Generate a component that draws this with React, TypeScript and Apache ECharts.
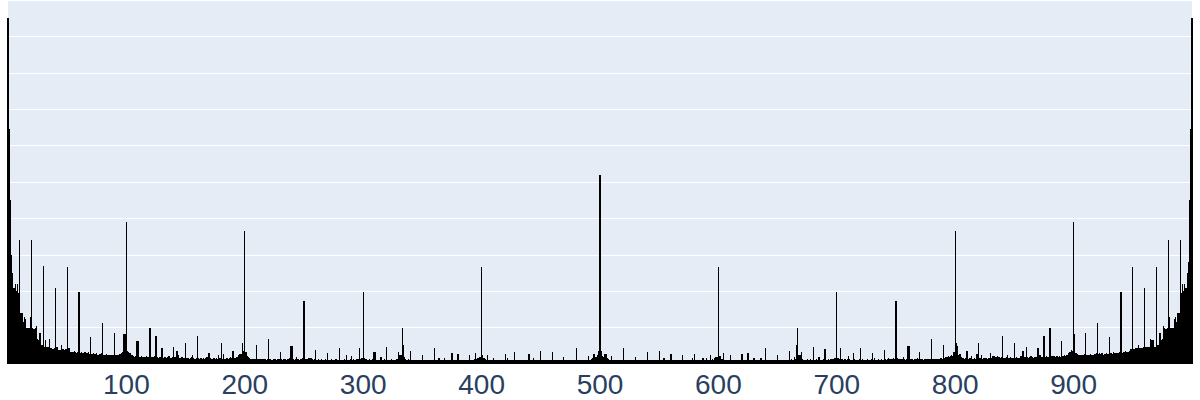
import React, { useEffect, useRef } from "react";
import * as echarts from "echarts";

// x positions 0..1000 (labels shown at multiples of 100)
const categories: string[] = Array.from({ length: 1001 }, (_, i) => String(i));
const tickLabels = ["100", "200", "300", "400", "500", "600", "700", "800", "900"];

// bar heights in tenths of a grid step, x = 0 .. 499
const valuesLeft: number[] = [
  95, 64.6, 45, 30, 25, 21, 22, 20, 22, 19.5,
  34, 14, 14, 11.5, 13, 12.4, 10, 10, 10, 13,
  34, 10, 9.6, 10, 10.4, 7, 6.6, 8.5, 5.2, 5.2,
  27, 4.7, 6.6, 4.7, 4.7, 6.9, 4.4, 4.4, 4.2, 4.4,
  21, 4.7, 4.6, 3.8, 3.8, 5.2, 4.0, 4.2, 3.9, 4.1,
  26.6, 4.4, 4.3, 3.3, 3.4, 3.2, 3.5, 3.3, 3.1, 3.3,
  19.8, 3.1, 3.2, 3.0, 3.1, 3.3, 2.9, 3.0, 3.2, 2.8,
  7.4, 2.8, 2.9, 2.7, 2.8, 3.0, 2.6, 2.8, 2.7, 2.9,
  11.3, 2.6, 2.5, 2.7, 2.4, 2.6, 2.5, 2.4, 2.6, 2.5,
  8.5, 2.4, 2.6, 2.5, 2.7, 2.8, 3.0, 3.2, 8.2, 8.2,
  39, 3.7, 3.2, 3.0, 2.6, 2.4, 2.2, 2.0, 2.1, 6.3,
  6.3, 2.0, 1.9, 2.1, 1.8, 2.0, 1.9, 2.2, 1.8, 2.0,
  10, 2.0, 1.8, 1.9, 2.1, 7.7, 1.8, 1.7, 1.9, 1.8,
  4.4, 1.7, 1.9, 1.8, 1.6, 1.8, 2.2, 1.7, 1.6, 1.9,
  4.7, 1.8, 3.6, 3.6, 2.4, 1.7, 1.6, 1.8, 1.7, 1.6,
  5.8, 1.6, 1.7, 1.5, 1.6, 1.8, 2.5, 1.6, 1.5, 1.6,
  7.7, 1.6, 1.5, 1.7, 1.5, 1.6, 1.4, 1.6, 2.0, 3.0,
  3.0, 1.6, 1.5, 1.4, 1.6, 1.5, 1.7, 1.5, 2.5, 1.6,
  5.8, 1.5, 2.7, 1.5, 1.4, 1.6, 1.5, 1.7, 1.8, 1.6,
  3.6, 1.6, 1.7, 1.8, 2.0, 2.4, 2.8, 2.8, 5.8, 3.6,
  36.5, 3.3, 2.2, 1.8, 1.6, 1.5, 1.4, 1.5, 1.3, 1.4,
  5.2, 1.3, 1.4, 1.3, 1.5, 1.3, 1.4, 1.3, 1.2, 1.4,
  6.9, 1.3, 1.4, 1.2, 1.3, 1.5, 1.3, 1.2, 1.4, 1.3,
  3.3, 1.3, 1.2, 1.4, 1.3, 1.2, 1.3, 1.4, 1.6, 5.0,
  5.0, 1.3, 1.2, 1.4, 2.0, 1.3, 1.2, 1.4, 1.5, 1.6,
  17.3, 1.5, 1.4, 1.3, 1.6, 1.6, 1.6, 1.3, 1.2, 1.3,
  3.8, 1.2, 1.3, 1.1, 1.2, 1.3, 1.2, 1.1, 1.3, 1.2,
  3.0, 1.2, 1.1, 1.3, 1.2, 1.1, 1.2, 1.3, 1.1, 1.2,
  4.4, 1.2, 1.1, 1.2, 1.3, 1.2, 2.5, 1.1, 1.2, 1.3,
  2.2, 1.2, 1.3, 1.2, 1.4, 1.3, 1.5, 4.4, 1.5, 1.6,
  19.8, 1.6, 1.4, 1.3, 1.2, 1.3, 1.1, 1.2, 1.3, 3.3,
  3.3, 1.2, 1.1, 1.2, 1.1, 1.9, 1.2, 1.1, 1.3, 1.2,
  4.7, 1.1, 1.2, 1.1, 1.3, 1.2, 1.1, 1.2, 1.3, 1.4,
  3.3, 2.5, 2.5, 10, 5.2, 1.9, 1.4, 1.2, 1.3, 1.2,
  3.6, 1.2, 1.1, 1.2, 1.1, 1.2, 1.1, 1.0, 1.2, 1.1,
  2.5, 1.1, 1.2, 1.1, 1.0, 1.1, 1.2, 1.1, 1.0, 1.1,
  4.4, 1.1, 1.0, 1.1, 1.6, 1.1, 1.0, 1.1, 1.2, 1.6,
  1.1, 1.0, 1.1, 1.2, 1.1, 3.0, 1.2, 1.1, 1.0, 1.1,
  2.7, 1.1, 1.0, 1.1, 1.2, 1.1, 1.0, 1.1, 1.2, 1.1,
  2.5, 1.1, 1.2, 1.1, 1.3, 3.0, 1.4, 1.6, 1.8, 2.0,
  26.6, 2.5, 1.6, 1.4, 1.2, 2.5, 1.2, 1.1, 1.0, 1.1,
  1.6, 1.0, 1.1, 1.0, 1.1, 1.0, 1.2, 1.1, 1.0, 1.1,
  2.7, 1.1, 1.6, 1.0, 1.1, 1.0, 1.1, 1.0, 3.3, 1.1,
  1.0, 1.1, 1.0, 1.1, 1.0, 1.2, 1.0, 1.1, 1.0, 1.1,
  2.7, 1.0, 1.1, 1.0, 1.6, 1.0, 1.1, 1.0, 1.1, 1.0,
  3.6, 1.1, 1.0, 1.1, 1.0, 1.1, 1.0, 1.1, 1.0, 1.1,
  3.3, 1.0, 1.1, 1.0, 1.1, 1.0, 1.2, 1.1, 1.2, 1.9,
  1.1, 1.0, 1.1, 1.2, 1.0, 1.1, 1.0, 1.2, 1.1, 1.0,
  4.4, 1.1, 1.0, 1.1, 1.2, 1.1, 1.0, 1.1, 1.2, 1.1,
  2.2, 1.1, 1.2, 1.4, 1.6, 2.7, 1.8, 2.0, 2.5, 3.6,
];

// bar heights, x = 500 .. 1000
const valuesRight: number[] = [
  52, 3.6, 2.2, 1.8, 2.7, 2.7, 1.6, 1.4, 1.2, 1.1,
  2.2, 1.1, 1.0, 1.2, 1.1, 1.0, 1.1, 1.0, 1.1, 1.2,
  4.4, 1.1, 1.0, 1.1, 1.2, 1.0, 1.1, 1.0, 1.1, 1.0,
  1.9, 1.1, 1.0, 1.1, 1.0, 1.1, 1.2, 1.0, 1.1, 1.0,
  3.3, 1.0, 1.1, 1.0, 1.1, 1.0, 1.1, 1.2, 1.0, 1.1,
  3.6, 1.0, 1.1, 1.0, 1.6, 1.1, 1.0, 1.1, 1.0, 1.1,
  2.7, 1.1, 1.0, 1.1, 1.0, 1.2, 1.0, 1.1, 1.0, 1.1,
  2.5, 1.1, 1.0, 1.1, 1.0, 1.1, 1.2, 1.0, 1.6, 1.1,
  2.7, 1.1, 1.0, 1.1, 1.0, 1.1, 1.2, 1.6, 1.1, 1.0,
  1.6, 1.1, 1.0, 2.5, 1.2, 1.4, 1.2, 1.6, 1.8, 2.0,
  26.6, 2.2, 2.2, 1.4, 3.0, 1.2, 1.1, 1.2, 1.0, 1.1,
  2.5, 1.0, 1.1, 1.0, 1.1, 1.0, 1.1, 1.2, 1.0, 1.1,
  2.7, 1.1, 1.0, 1.1, 1.0, 3.0, 1.1, 1.0, 1.1, 1.0,
  1.6, 1.1, 1.0, 1.1, 1.2, 1.1, 1.6, 1.1, 1.0, 1.1,
  4.4, 1.1, 1.2, 1.1, 1.0, 1.1, 1.0, 1.2, 1.1, 1.2,
  2.5, 1.2, 1.1, 1.2, 1.1, 1.2, 1.1, 1.2, 1.1, 1.2,
  3.6, 1.2, 1.3, 1.2, 1.9, 1.4, 5.2, 10, 2.5, 2.5,
  3.3, 1.3, 1.2, 1.1, 1.2, 1.3, 1.2, 1.1, 1.3, 1.2,
  4.7, 1.2, 1.1, 1.3, 1.2, 1.9, 1.1, 1.2, 1.1, 1.3,
  4.1, 1.2, 1.1, 1.3, 1.2, 1.4, 1.3, 1.4, 1.6, 1.6,
  19.8, 1.6, 1.5, 4.4, 1.4, 1.3, 1.2, 1.3, 1.2, 1.3,
  2.2, 1.3, 1.2, 1.1, 3.0, 1.3, 1.2, 1.1, 1.2, 1.3,
  4.4, 1.2, 1.3, 1.2, 1.1, 1.2, 1.3, 1.1, 1.2, 1.3,
  3.0, 1.2, 1.6, 1.1, 1.2, 1.3, 1.2, 1.1, 1.3, 1.2,
  3.8, 1.3, 1.2, 1.3, 1.6, 1.3, 1.4, 1.5, 1.6, 1.5,
  17.3, 1.6, 1.5, 1.4, 1.5, 1.3, 1.9, 1.4, 1.2, 1.3,
  5.0, 5.0, 1.3, 1.4, 1.3, 1.2, 1.3, 1.4, 1.6, 1.3,
  3.3, 1.4, 1.3, 1.2, 1.4, 1.3, 1.5, 1.4, 1.3, 1.5,
  6.9, 1.4, 1.3, 1.5, 1.4, 1.3, 1.5, 1.4, 1.6, 1.5,
  5.2, 1.6, 1.8, 2.0, 2.2, 2.0, 2.2, 2.4, 2.2, 3.3,
  36.5, 5.8, 5.0, 2.4, 2.7, 1.8, 1.7, 1.6, 1.5, 1.6,
  3.6, 1.5, 1.6, 1.7, 2.2, 1.5, 1.6, 1.5, 2.7, 2.7,
  5.8, 1.6, 2.5, 1.5, 1.6, 1.7, 1.6, 1.5, 1.7, 1.6,
  3.0, 1.7, 2.2, 2.2, 1.9, 2.0, 2.2, 1.8, 1.6, 2.0,
  7.7, 1.7, 1.6, 1.8, 2.5, 1.6, 1.7, 1.8, 1.6, 1.7,
  5.8, 1.7, 1.8, 1.6, 1.7, 2.2, 2.2, 3.6, 3.6, 1.8,
  4.7, 1.9, 1.7, 1.8, 2.2, 1.8, 1.7, 1.9, 1.8, 2.0,
  4.4, 2.5, 2.5, 1.9, 2.0, 7.7, 1.9, 2.1, 1.8, 2.0,
  10, 2.2, 2.2, 2.3, 2.2, 2.0, 2.1, 1.9, 2.2, 2.0,
  6.3, 2.2, 2.4, 2.2, 2.5, 2.6, 3.0, 3.3, 3.8, 3.5,
  39, 8.2, 3.0, 2.7, 2.6, 2.5, 2.4, 2.6, 2.5, 2.7,
  8.5, 2.5, 2.6, 2.4, 2.7, 2.5, 2.6, 2.4, 2.7, 3.0,
  11.3, 2.7, 2.9, 2.8, 3.0, 2.6, 2.8, 2.7, 2.9, 2.8,
  7.4, 2.9, 3.0, 2.8, 3.2, 3.0, 2.9, 3.1, 3.0, 3.2,
  19.8, 3.1, 3.3, 3.2, 3.5, 3.3, 3.4, 3.6, 4.2, 4.0,
  26.6, 4.2, 4.4, 4.3, 4.4, 5.2, 4.3, 4.5, 4.4, 4.6,
  21, 4.7, 4.6, 4.7, 4.8, 6.9, 6.6, 6.6, 4.7, 4.7,
  26.6, 5.2, 5.2, 8.5, 6.6, 7, 10.4, 10, 9.6, 10,
  34, 13, 10, 10, 10, 12.4, 13, 11.5, 14, 14,
  34, 19.5, 22, 20, 22, 21, 25, 28, 45, 64.6,
  95,
];

const values: number[] = [...valuesLeft, ...valuesRight];

export default function App() {
  const ref = useRef<HTMLDivElement>(null);
  useEffect(() => {
    if (!ref.current) return;
    const chart = echarts.init(ref.current, undefined, { renderer: "svg" });
    chart.setOption({
      animation: false,
      backgroundColor: "#ffffff",
      grid: {
        left: 8,
        right: 8,
        top: 0,
        bottom: 36,
        show: true,
        backgroundColor: "#E5ECF6",
        borderWidth: 0,
        containLabel: false,
      },
      xAxis: {
        type: "category",
        data: categories,
        boundaryGap: false,
        axisLine: { show: false },
        axisTick: { show: false },
        splitLine: { show: false },
        axisLabel: {
          interval: (_i: number, v: string) => tickLabels.includes(v),
          color: "#2a3f5f",
          fontSize: 28,
          lineHeight: 28,
          fontFamily: '"Liberation Sans", Arial, sans-serif',
          margin: 6,
        },
      },
      yAxis: {
        type: "value",
        min: 0,
        max: 100,
        interval: 10,
        axisLine: { show: false },
        axisTick: { show: false },
        axisLabel: { show: false },
        splitLine: { show: true, lineStyle: { color: "#ffffff", width: 1 } },
      },
      series: [
        {
          type: "bar",
          data: values,
          barWidth: "100%",
          itemStyle: { color: "#000000" },
          clip: true,
        },
      ],
    });
    return () => chart.dispose();
  }, []);
  return (
    <>
      <style>{`.bar-chart-box svg path { shape-rendering: crispEdges; }`}</style>
      <div
        ref={ref}
        className="bar-chart-box"
        style={{ position: "absolute", left: 0, top: 0, width: 1200, height: 400 }}
      />
    </>
  );
}
